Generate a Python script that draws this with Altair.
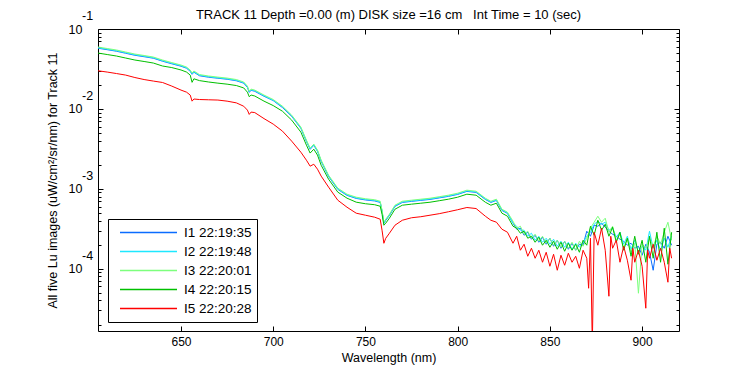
import altair as alt
import pandas as pd

SERIES = ["I1 22:19:35", "I2 22:19:48", "I3 22:20:01", "I4 22:20:15", "I5 22:20:28"]
COLORS = ["#0a6cff", "#1ee8ff", "#7dff7d", "#00c000", "#ff0000"]

WL_SMOOTH = [605, 610, 615, 620, 625, 630, 635, 640, 645, 650,
             653, 655, 656, 657, 660, 665, 670, 675, 680, 684,
             686, 687, 688, 690, 695, 700, 705, 710, 715, 718,
             720, 722, 724, 726, 730, 735, 740, 745, 750, 755,
             758, 759, 760, 761, 763, 766, 770, 775, 780, 785,
             790, 795, 800, 805, 810, 815, 818, 821, 824, 827]
WL_NOISE = [830, 832, 834, 836, 838, 840, 842, 844, 846, 848,
            850, 852, 854, 856, 858, 860, 862, 864, 866, 868,
            870, 872, 874, 876, 878, 880, 882, 884, 886, 888,
            890, 892, 894, 896, 898, 900, 902, 904, 906, 908,
            910, 912, 914, 916]
WL_NOISE_I5 = [830, 832, 834, 836, 838, 840, 842, 844, 846, 848,
               850, 852, 854, 856, 858, 860, 862, 864, 866, 868,
               870, 871, 872, 873, 874, 876, 878, 880, 882, 883,
               884, 886, 888, 890, 892, 894, 895, 896, 898, 900,
               902, 903, 904, 906, 908, 910, 912, 914, 915, 916]

I1 = [0.0575, 0.0551, 0.0527, 0.0497, 0.0469, 0.0450, 0.0431, 0.0395, 0.0367, 0.0342,
      0.0323, 0.0296, 0.0271, 0.0288, 0.0260, 0.0249, 0.0242, 0.0235, 0.0225, 0.0210,
      0.0186, 0.0161, 0.0171, 0.0166, 0.0144, 0.0127, 0.0104, 0.00808, 0.00571, 0.00392,
      0.00312, 0.00350, 0.00295, 0.00220, 0.00143, 0.000985, 0.000827, 0.000758, 0.000725, 0.000705,
      0.000675, 0.000521, 0.000369, 0.000402, 0.000465, 0.000602, 0.000675, 0.000696, 0.000716, 0.000736,
      0.000769, 0.000804, 0.000851, 0.000928, 0.000901, 0.000736, 0.000675, 0.000716, 0.000536, 0.000492,
      3.708e-4, 3.118e-4, 3.210e-4, 2.623e-4, 2.860e-4, 2.337e-4, 2.623e-4, 2.143e-4, 2.476e-4, 2.023e-4,
      2.405e-4, 1.910e-4, 2.270e-4, 1.803e-4, 2.206e-4, 1.751e-4, 2.082e-4, 1.702e-4, 2.023e-4, 1.966e-4,
      2.944e-4, 2.548e-4, 3.500e-4, 3.400e-4, 3.708e-4, 3.304e-4, 2.944e-4, 2.700e-4, 2.548e-4, 2.337e-4,
      2.206e-4, 1.966e-4, 2.082e-4, 1.803e-4, 1.910e-4, 1.473e-4, 2.023e-4, 1.606e-4, 0.956e-4, 2.023e-4,
      2.143e-4, 1.803e-4, 2.548e-4, 1.966e-4]

I2 = [0.0583, 0.0559, 0.0535, 0.0505, 0.0476, 0.0457, 0.0437, 0.0401, 0.0372, 0.0347,
      0.0327, 0.0300, 0.0275, 0.0292, 0.0264, 0.0253, 0.0245, 0.0238, 0.0228, 0.0213,
      0.0189, 0.0164, 0.0173, 0.0169, 0.0146, 0.0128, 0.0106, 0.00819, 0.00579, 0.00398,
      0.00317, 0.00355, 0.00299, 0.00223, 0.00145, 0.00100, 0.000839, 0.000769, 0.000736, 0.000715,
      0.000685, 0.000528, 0.000374, 0.000408, 0.000471, 0.000611, 0.000685, 0.000706, 0.000726, 0.000747,
      0.000780, 0.000815, 0.000863, 0.000942, 0.000914, 0.000747, 0.000685, 0.000726, 0.000544, 0.000499,
      3.708e-4, 3.400e-4, 3.030e-4, 3.030e-4, 2.548e-4, 2.779e-4, 2.270e-4, 2.548e-4, 2.143e-4, 2.405e-4,
      2.023e-4, 2.337e-4, 1.910e-4, 2.206e-4, 1.855e-4, 2.143e-4, 1.751e-4, 2.082e-4, 1.855e-4, 2.143e-4,
      2.548e-4, 2.860e-4, 3.602e-4, 3.928e-4, 3.602e-4, 3.816e-4, 3.030e-4, 3.210e-4, 2.476e-4, 2.860e-4,
      2.023e-4, 2.548e-4, 1.751e-4, 2.270e-4, 1.606e-4, 1.910e-4, 1.702e-4, 2.944e-4, 1.803e-4, 2.270e-4,
      1.702e-4, 2.405e-4, 1.855e-4, 2.548e-4]

I3 = [0.0595, 0.0570, 0.0546, 0.0515, 0.0486, 0.0466, 0.0446, 0.0409, 0.0380, 0.0354,
      0.0334, 0.0306, 0.0281, 0.0298, 0.0269, 0.0258, 0.0250, 0.0243, 0.0233, 0.0217,
      0.0193, 0.0167, 0.0177, 0.0172, 0.0149, 0.0131, 0.0108, 0.00836, 0.00591, 0.00406,
      0.00323, 0.00362, 0.00305, 0.00228, 0.00148, 0.00102, 0.000856, 0.000785, 0.000751, 0.000730,
      0.000699, 0.000539, 0.000382, 0.000416, 0.000481, 0.000623, 0.000699, 0.000720, 0.000741, 0.000762,
      0.000796, 0.000832, 0.000881, 0.000961, 0.000933, 0.000762, 0.000699, 0.000741, 0.000555, 0.000509,
      3.928e-4, 3.210e-4, 3.400e-4, 2.700e-4, 2.944e-4, 2.405e-4, 2.700e-4, 2.206e-4, 2.548e-4, 2.082e-4,
      2.405e-4, 1.966e-4, 2.270e-4, 1.855e-4, 2.206e-4, 1.803e-4, 2.143e-4, 1.702e-4, 2.206e-4, 1.910e-4,
      2.405e-4, 3.210e-4, 3.816e-4, 4.538e-4, 3.816e-4, 4.283e-4, 2.860e-4, 3.400e-4, 2.270e-4, 2.700e-4,
      1.803e-4, 2.405e-4, 1.606e-4, 2.082e-4, 0.493e-4, 2.023e-4, 1.803e-4, 2.405e-4, 1.910e-4, 2.548e-4,
      2.023e-4, 2.860e-4, 3.816e-4, 2.270e-4]

I4 = [0.0500, 0.0479, 0.0459, 0.0433, 0.0409, 0.0392, 0.0375, 0.0344, 0.0329, 0.0307,
      0.0289, 0.0265, 0.0215, 0.0238, 0.0226, 0.0217, 0.0210, 0.0204, 0.0196, 0.0183,
      0.0162, 0.0142, 0.0149, 0.0145, 0.0125, 0.0110, 0.00935, 0.00724, 0.00512, 0.00352,
      0.00280, 0.00313, 0.00264, 0.00197, 0.00132, 0.000909, 0.000763, 0.000680, 0.000650, 0.000632,
      0.000605, 0.000480, 0.000350, 0.000371, 0.000429, 0.000555, 0.000623, 0.000642, 0.000660, 0.000679,
      0.000709, 0.000741, 0.000785, 0.000856, 0.000831, 0.000679, 0.000623, 0.000660, 0.000495, 0.000454,
      3.400e-4, 3.210e-4, 2.779e-4, 2.944e-4, 2.405e-4, 2.548e-4, 2.143e-4, 2.476e-4, 1.966e-4, 2.270e-4,
      1.855e-4, 2.206e-4, 1.751e-4, 2.143e-4, 1.653e-4, 2.082e-4, 1.702e-4, 2.023e-4, 1.606e-4, 2.270e-4,
      1.966e-4, 3.400e-4, 2.623e-4, 4.043e-4, 3.030e-4, 3.602e-4, 2.548e-4, 3.304e-4, 2.143e-4, 2.860e-4,
      1.702e-4, 2.405e-4, 1.431e-4, 2.548e-4, 1.516e-4, 2.270e-4, 1.204e-4, 2.548e-4, 1.351e-4, 2.860e-4,
      1.204e-4, 3.210e-4, 1.136e-4, 2.860e-4]

I5 = [0.0300, 0.0289, 0.0277, 0.0265, 0.0247, 0.0233, 0.0223, 0.0214, 0.0193, 0.0172,
      0.0162, 0.0149, 0.0125, 0.0133, 0.0131, 0.0130, 0.0129, 0.0125, 0.0119, 0.0108,
      0.00966, 0.00853, 0.00912, 0.00899, 0.00756, 0.00645, 0.00527, 0.00395, 0.00287, 0.00228,
      0.00192, 0.00203, 0.00176, 0.00144, 0.00105, 0.000720, 0.000588, 0.000495, 0.000467, 0.000441,
      0.000416, 0.000303, 0.000208, 0.000240, 0.000278, 0.000350, 0.000404, 0.000434, 0.000447, 0.000467,
      0.000488, 0.000516, 0.000547, 0.000583, 0.000566, 0.000454, 0.000404, 0.000382, 0.000312, 0.000286,
      2.082e-4, 2.548e-4, 1.702e-4, 2.023e-4, 1.431e-4, 1.803e-4, 1.351e-4, 1.702e-4, 1.204e-4, 1.606e-4,
      1.073e-4, 1.516e-4, 0.956e-4, 1.473e-4, 1.104e-4, 1.561e-4, 1.204e-4, 1.431e-4, 1.012e-4, 1.702e-4,
      1.351e-4, 0.569e-4, 2.405e-4, 0.110e-4, 2.860e-4, 1.966e-4, 3.210e-4, 1.702e-4, 0.452e-4, 2.548e-4,
      1.803e-4, 2.270e-4, 1.204e-4, 1.910e-4, 1.275e-4, 0.717e-4, 1.803e-4, 1.204e-4, 1.702e-4, 1.073e-4,
      0.320e-4, 1.702e-4, 1.351e-4, 2.023e-4, 1.275e-4, 1.803e-4, 1.204e-4, 0.677e-4, 1.803e-4, 1.351e-4]

X_TICKS = [650, 700, 750, 800, 850, 900]
DECADES = [1e-1, 1e-2, 1e-3, 1e-4]
EXPONENTS = ["-1", "-2", "-3", "-4"]
MINOR = [m * 10.0 ** e for e in (-5, -4, -3, -2) for m in range(2, 10)]

TITLE = "TRACK 11 Depth =0.00 (m) DISK size =16 cm\u00a0\u00a0\u00a0Int Time = 10 (sec)"
X_TITLE = "Wavelength (nm)"
Y_TITLE = "All five Lu images (uW/cm\u00b2/sr/nm) for Track 11"

FONT = "Liberation Sans"
W, H = 581, 302

wl_a = WL_SMOOTH + WL_NOISE
wl_b = WL_SMOOTH + WL_NOISE_I5
rows = []
for name, wls, vals in zip(SERIES, [wl_a, wl_a, wl_a, wl_a, wl_b], [I1, I2, I3, I4, I5]):
    assert len(wls) == len(vals), (name, len(wls), len(vals))
    for w, v in zip(wls, vals):
        rows.append({"series": name, "wl": w, "v": v})
df = pd.DataFrame(rows)

xs = alt.Scale(domain=[605, 920], nice=False, zero=False)
ys = alt.Scale(type="log", domain=[1.66e-5, 0.1], nice=False)

lines = alt.Chart(df).mark_line(strokeWidth=1, clip=True).encode(
    x=alt.X("wl:Q", scale=xs,
            axis=alt.Axis(values=X_TICKS, title=X_TITLE, ticks=False, tickSize=0, domain=False,
                          grid=False, labelPadding=5, labelFontSize=12, titleFontSize=12.5,
                          titleFontWeight="normal", titlePadding=4, format="d")),
    y=alt.Y("v:Q", scale=ys,
            axis=alt.Axis(values=DECADES, labelExpr="'10'", title=Y_TITLE, ticks=False, tickSize=0,
                          domain=False, grid=False, labelPadding=16, labelFontSize=12.5,
                          labelBaseline="middle", titleFontSize=12.5, titleFontWeight="normal",
                          titlePadding=9)),
    color=alt.Color("series:N", scale=alt.Scale(domain=SERIES, range=COLORS),
                    legend=alt.Legend(orient="none", legendX=10, legendY=190, title=None,
                                      symbolType="stroke", symbolSize=3249, symbolStrokeWidth=1.5,
                                      clipHeight=17, rowPadding=2, padding=5, symbolOffset=6,
                                      labelOffset=6, labelFontSize=13.5, labelFont=FONT,
                                      labelColor="black", strokeColor="black", fillColor="white",
                                      cornerRadius=0)),
)

carrier_df = df.head(1)


def tick_layer(channel, orient, offset, values, size):
    ax = alt.Axis(orient=orient, offset=offset, values=values, tickSize=size, labels=False,
                  domain=False, grid=False, title=None, ticks=True, tickColor="black", tickWidth=1)
    base = alt.Chart(carrier_df).mark_point(opacity=0)
    if channel == "x":
        return base.encode(x=alt.X("wl:Q", scale=xs, axis=ax), y=alt.Y("v:Q", scale=ys, axis=None))
    return base.encode(x=alt.X("wl:Q", scale=xs, axis=None), y=alt.Y("v:Q", scale=ys, axis=ax))


carriers = [
    tick_layer("x", "top", -H, X_TICKS, 5),
    tick_layer("x", "bottom", -H, X_TICKS, 5),
    tick_layer("y", "right", -W, DECADES, 5),
    tick_layer("y", "right", -W, MINOR, 3),
    tick_layer("y", "left", -W, DECADES, 5),
    tick_layer("y", "left", -W, MINOR, 3),
]

exp_df = pd.DataFrame({"v": DECADES, "t": EXPONENTS})
exps = alt.Chart(exp_df).mark_text(align="left", baseline="middle", dy=-13, fontSize=12.5,
                                   font=FONT, color="black").encode(
    x=alt.value(-16),
    y=alt.Y("v:Q", scale=ys, axis=None),
    text="t:N",
)

chart = alt.layer(lines, *carriers, exps).resolve_axis(
    x="independent", y="independent"
).properties(
    width=W, height=H,
    title=alt.TitleParams(text=TITLE, fontSize=13, font=FONT, fontWeight="normal",
                          anchor="middle", offset=0, baseline="alphabetic", dy=22,
                          color="black"),
    autosize=alt.AutoSizeParams(type="none"),
    padding={"left": 98, "top": 29, "right": 71, "bottom": 44},
    background="white",
).configure_view(
    stroke="black", strokeWidth=1
).configure_axis(
    labelFont=FONT, titleFont=FONT, labelColor="black", titleColor="black"
)

chart.save("out.html", embed_options={"renderer": "svg", "actions": False})
